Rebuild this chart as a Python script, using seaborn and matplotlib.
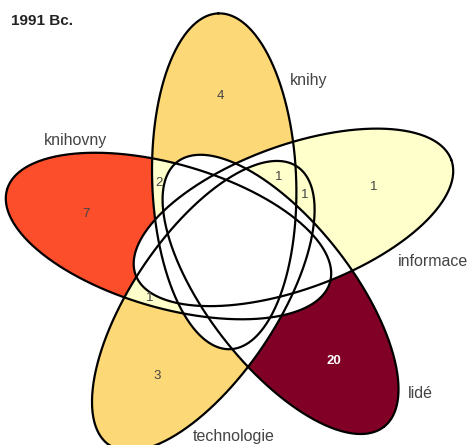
import matplotlib
matplotlib.use("Agg")
import matplotlib.pyplot as plt
import numpy as np
import seaborn as sns

sns.set_theme(style="white")
plt.rcParams["font.family"] = ["Liberation Sans", "DejaVu Sans"]

# data: sets (clockwise from the top) and the non-empty regions
set_names = ["knihy", "informace", "lidé", "technologie", "knihovny"]
region_members = [
    ["knihy"],
    ["informace"],
    ["lidé"],
    ["technologie"],
    ["knihovny"],
    ["knihy", "knihovny"],
    ["knihy", "informace", "technologie"],
    ["informace", "technologie"],
    ["technologie", "knihovny"],
]
region_counts = [4, 1, 20, 3, 7, 2, 1, 1, 1]
title = "1991 Bc."

# colour steps (YlOrRd)
count_breaks = [1, 3, 5, 10]
step_colors = sns.color_palette(["#ffffcc", "#fed976", "#fc4e2a", "#800026"])

W, H = 469, 445
CX, CY = 234, 247
A, B = 168, 72
ALONG, PERP = 66, -7.5
BASE = 92
label_pos = {
    "knihy": (309, 81),
    "informace": (433, 262),
    "lidé": (420, 393),
    "technologie": (234, 437),
    "knihovny": (75, 140),
}


def ellipse_frames():
    out = []
    for i in range(len(set_names)):
        th = np.deg2rad(BASE - 72 * i)
        u = np.array([np.cos(th), -np.sin(th)])
        p = np.array([np.sin(th), np.cos(th)])
        c = np.array([CX, CY]) + ALONG * u + PERP * p
        out.append((c, u, p))
    return out


def color_for(n):
    idx = np.searchsorted(count_breaks, n, side="right") - 1
    return step_colors[idx]


frames = ellipse_frames()
ss = 3
xs = (np.arange(W * ss) + 0.5) / ss
ys = (np.arange(H * ss) + 0.5) / ss
X, Y = np.meshgrid(xs, ys)
code = np.zeros(X.shape, int)
for i, (c, u, p) in enumerate(frames):
    dx, dy = X - c[0], Y - c[1]
    a = dx * u[0] + dy * u[1]
    b = dx * p[0] + dy * p[1]
    code |= ((a / A) ** 2 + (b / B) ** 2 <= 1).astype(int) << i

img = np.ones(X.shape + (3,))
centers = []
for members, n in zip(region_members, region_counts):
    rc = sum(1 << set_names.index(m) for m in members)
    sel = code == rc
    img[sel] = color_for(n)
    centers.append((X[sel].mean(), Y[sel].mean()))

fig = plt.figure(figsize=(W / 100, H / 100), dpi=100)
ax = fig.add_axes([0, 0, 1, 1])
ax.imshow(img, extent=[0, W, H, 0], interpolation="antialiased")

t = np.linspace(0, 2 * np.pi, 500)
for c, u, p in frames:
    pts = c[:, None] + A * np.cos(t) * u[:, None] + B * np.sin(t) * p[:, None]
    ax.plot(pts[0], pts[1], color="black", lw=1.6, solid_capstyle="round")

for (x, y), n in zip(centers, region_counts):
    dark = n >= 10
    ax.text(x, y, str(n), ha="center", va="center", fontsize=9.5,
            color="white" if dark else "#444444",
            fontweight="bold" if dark else "normal")

for name in set_names:
    x, y = label_pos[name]
    ax.text(x, y, name, ha="center", va="center", fontsize=11.5, color="#444444")

ax.text(11, 21, title, ha="left", va="center", fontsize=11, fontweight="bold",
        color="#222222")

ax.set_xlim(0, W)
ax.set_ylim(H, 0)
ax.axis("off")
fig.savefig("out.png", dpi=100)
